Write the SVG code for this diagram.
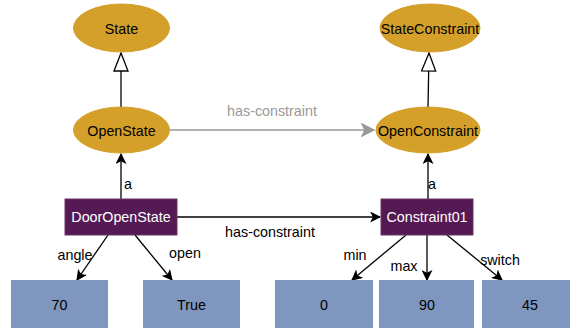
<svg xmlns="http://www.w3.org/2000/svg" width="570" height="331" viewBox="0 0 570 331">
<defs>
<style>
text{font-family:"Liberation Sans",Arial,sans-serif;font-size:14.3px;fill:#000;text-anchor:middle;dominant-baseline:central}
.cls{fill:#D4A02A;stroke:#D4A02A}
.inst{fill:#551A53;stroke:#6b3569}
.inst-t{fill:#fff}
.val{fill:#7F96BE}
.e{stroke:#000;stroke-width:1.3;fill:none}
.g{stroke:#999;stroke-width:1.3;fill:none}
.gl{fill:#999}
</style>
<marker id="arr" viewBox="0 0 10 10" refX="9" refY="5" markerWidth="11" markerHeight="11" markerUnits="userSpaceOnUse" orient="auto"><path d="M0,0 L10,5 L0,10 L2.5,5 Z" fill="#000"/></marker>
<marker id="arrg" viewBox="0 0 10 10" refX="9" refY="5" markerWidth="15" markerHeight="15" markerUnits="userSpaceOnUse" orient="auto"><path d="M0,0 L10,5 L0,10 L2.5,5 Z" fill="#999"/></marker>
<marker id="tri" viewBox="0 0 20 16" refX="19" refY="8" markerWidth="20" markerHeight="16" markerUnits="userSpaceOnUse" orient="auto"><path d="M1,1 L19,8 L1,15 Z" fill="#fff" stroke="#000" stroke-width="1.3"/></marker>
</defs>
<g id="connectors">
<line class="e" x1="121" y1="107" x2="121" y2="53" marker-end="url(#tri)"/>
<line class="e" x1="428" y1="107" x2="429" y2="53" marker-end="url(#tri)"/>
<line class="g" x1="170" y1="130" x2="374" y2="130" marker-end="url(#arrg)"/>
<text x="272" y="111" class="gl">has-constraint</text>
<line class="e" x1="121" y1="199" x2="121" y2="154" marker-end="url(#arr)"/>
<text x="128" y="184">a</text>
<line class="e" x1="428" y1="199" x2="428" y2="154" marker-end="url(#arr)"/>
<text x="432" y="184">a</text>
<line class="e" x1="177" y1="217" x2="380" y2="217" marker-end="url(#arr)"/>
<text x="270" y="232">has-constraint</text>
<line class="e" x1="108" y1="235" x2="77" y2="280" marker-end="url(#arr)"/>
<text x="75" y="255">angle</text>
<line class="e" x1="135" y1="235" x2="172" y2="280" marker-end="url(#arr)"/>
<text x="185" y="253">open</text>
<line class="e" x1="406" y1="235" x2="352" y2="280" marker-end="url(#arr)"/>
<text x="355" y="255">min</text>
<line class="e" x1="427" y1="235" x2="427" y2="280" marker-end="url(#arr)"/>
<text x="404" y="266">max</text>
<line class="e" x1="447" y1="235" x2="502" y2="280" marker-end="url(#arr)"/>
<text x="500" y="260">switch</text>
</g>
<g id="State"><ellipse class="cls" cx="121.5" cy="28" rx="48" ry="24"/><text x="121.5" y="29">State</text></g>
<g id="StateConstraint"><ellipse class="cls" cx="430" cy="28" rx="50" ry="24"/><text x="430" y="29">StateConstraint</text></g>
<g id="OpenState"><ellipse class="cls" cx="121.5" cy="130" rx="48" ry="23"/><text x="121.5" y="131">OpenState</text></g>
<g id="OpenConstraint"><ellipse class="cls" cx="428" cy="130" rx="52" ry="23"/><text x="428" y="131">OpenConstraint</text></g>
<g id="DoorOpenState"><rect class="inst" x="65" y="199" width="112" height="36"/><text class="inst-t" x="121" y="217">DoorOpenState</text></g>
<g id="Constraint01"><rect class="inst" x="381" y="199" width="92" height="36"/><text class="inst-t" x="427" y="217">Constraint01</text></g>
<g id="v70"><rect class="val" x="11" y="280" width="97" height="48"/><text x="59.5" y="305">70</text></g>
<g id="vTrue"><rect class="val" x="143" y="280" width="97" height="48"/><text x="191.5" y="305">True</text></g>
<g id="v0"><rect class="val" x="275" y="280" width="98" height="48"/><text x="324" y="305">0</text></g>
<g id="v90"><rect class="val" x="379" y="280" width="95" height="48"/><text x="427" y="305">90</text></g>
<g id="v45"><rect class="val" x="482" y="280" width="95" height="48"/><text x="530" y="305">45</text></g>
</svg>
